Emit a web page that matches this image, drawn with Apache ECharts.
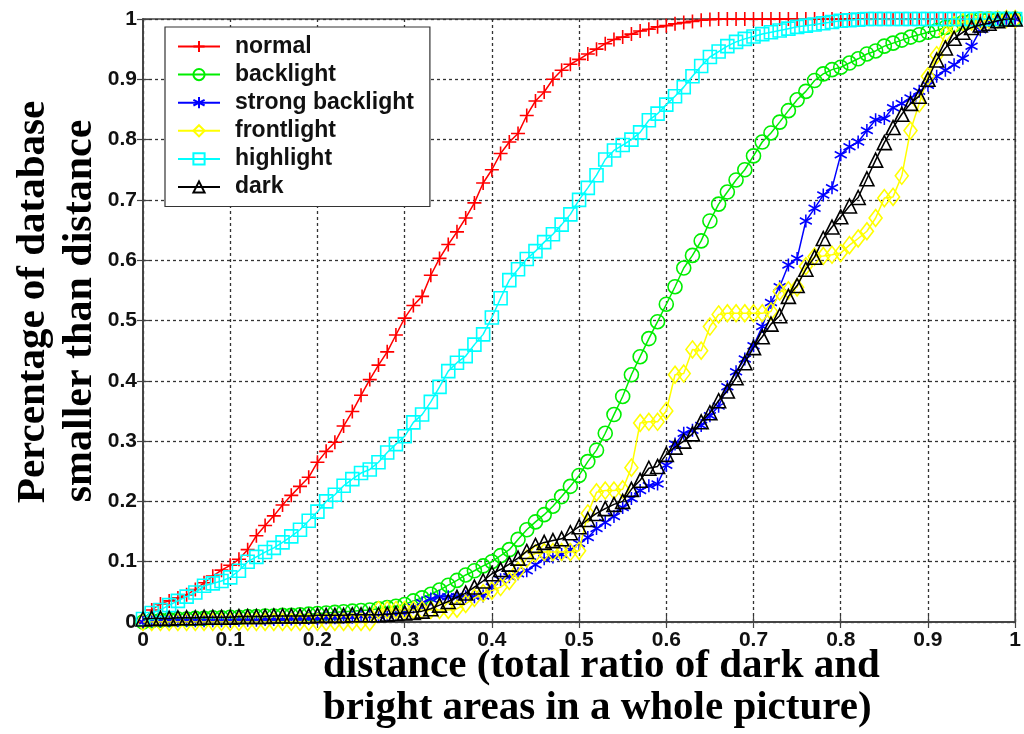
<!DOCTYPE html>
<html>
<head>
<meta charset="utf-8">
<script src="https://cdn.jsdelivr.net/npm/echarts@6/dist/echarts.min.js"></script>
<style>html,body{margin:0;padding:0;background:#fff;}#chart{width:1024px;height:734px;}</style>
</head>
<body>
<div id="chart"></div>
<script>
// distance grid (x values)
var distance = [0,0.01,0.02,0.03,0.04,0.05,0.06,0.07,0.08,0.09,
0.1,0.11,0.12,0.13,0.14,0.15,0.16,0.17,0.18,0.19,
0.2,0.21,0.22,0.23,0.24,0.25,0.26,0.27,0.28,0.29,
0.3,0.31,0.32,0.33,0.34,0.35,0.36,0.37,0.38,0.39,
0.4,0.41,0.42,0.43,0.44,0.45,0.46,0.47,0.48,0.49,
0.5,0.51,0.52,0.53,0.54,0.55,0.56,0.57,0.58,0.59,
0.6,0.61,0.62,0.63,0.64,0.65,0.66,0.67,0.68,0.69,
0.7,0.71,0.72,0.73,0.74,0.75,0.76,0.77,0.78,0.79,
0.8,0.81,0.82,0.83,0.84,0.85,0.86,0.87,0.88,0.89,
0.9,0.91,0.92,0.93,0.94,0.95,0.96,0.97,0.98,0.99,1];

var normal = [0,0.02,0.03,0.035,0.04,0.045,0.054,0.065,0.076,0.086,
0.094,0.104,0.12,0.143,0.16,0.176,0.194,0.21,0.225,0.24,
0.265,0.283,0.298,0.325,0.349,0.376,0.402,0.426,0.448,0.476,
0.504,0.525,0.54,0.575,0.603,0.626,0.647,0.67,0.695,0.728,
0.75,0.777,0.796,0.81,0.84,0.864,0.879,0.9,0.915,0.925,
0.933,0.942,0.95,0.959,0.966,0.97,0.975,0.98,0.983,0.987,
0.989,0.992,0.994,0.996,0.998,0.999,1,1,1,1,
1,1,1,1,1,1,1,1,1,1,
1,1,1,1,1,1,1,1,1,1,
1,1,1,1,1,1,1,1,1,1,1];

var backlight = [0,0.002,0.003,0.004,0.005,0.005,0.006,0.006,0.007,0.007,
0.008,0.008,0.009,0.009,0.01,0.01,0.011,0.011,0.012,0.013,
0.014,0.015,0.016,0.017,0.018,0.019,0.02,0.022,0.024,0.026,
0.029,0.035,0.04,0.046,0.053,0.061,0.069,0.078,0.085,0.093,
0.1,0.11,0.12,0.137,0.153,0.166,0.178,0.192,0.208,0.225,
0.243,0.266,0.285,0.313,0.344,0.374,0.41,0.44,0.47,0.498,
0.527,0.556,0.587,0.608,0.632,0.665,0.693,0.713,0.733,0.75,
0.773,0.796,0.811,0.829,0.848,0.866,0.88,0.898,0.909,0.916,
0.92,0.927,0.934,0.942,0.947,0.955,0.96,0.965,0.97,0.974,
0.978,0.981,0.986,0.99,0.994,0.997,1,1,1,1,1];

var strongBacklight = [0,0.002,0.002,0.002,0.002,0.002,0.002,0.002,0.002,0.002,
0.002,0.003,0.003,0.003,0.004,0.004,0.004,0.005,0.005,0.006,
0.006,0.007,0.007,0.008,0.008,0.009,0.009,0.01,0.011,0.013,
0.015,0.025,0.032,0.038,0.042,0.042,0.042,0.042,0.042,0.043,
0.058,0.07,0.075,0.08,0.085,0.095,0.105,0.108,0.112,0.12,
0.13,0.14,0.155,0.165,0.175,0.19,0.205,0.218,0.226,0.229,
0.26,0.295,0.313,0.318,0.326,0.342,0.358,0.39,0.415,0.436,
0.458,0.49,0.53,0.556,0.592,0.603,0.665,0.686,0.708,0.72,
0.775,0.788,0.796,0.815,0.833,0.835,0.853,0.86,0.869,0.88,
0.89,0.905,0.915,0.924,0.935,0.955,0.982,0.99,0.997,1,1];

var frontlight = [0,0,0,0,0,0,0,0,0,0,
0,0,0,0,0,0,0,0,0,0,
0,0,0,0,0,0,0,0.02,0.02,0.02,
0.02,0.02,0.02,0.02,0.02,0.02,0.022,0.03,0.04,0.048,
0.052,0.058,0.068,0.085,0.105,0.114,0.116,0.116,0.116,0.116,
0.118,0.18,0.215,0.218,0.218,0.22,0.256,0.33,0.332,0.332,
0.35,0.41,0.412,0.452,0.45,0.49,0.51,0.512,0.512,0.512,
0.512,0.512,0.515,0.548,0.55,0.555,0.59,0.606,0.607,0.609,
0.612,0.625,0.636,0.648,0.67,0.703,0.705,0.74,0.815,0.86,
0.905,0.94,0.975,0.99,0.995,0.996,0.997,0.998,0.999,1,1];

var highlight = [0.005,0.015,0.02,0.028,0.035,0.042,0.049,0.06,0.064,0.068,
0.074,0.085,0.1,0.108,0.116,0.123,0.132,0.142,0.153,0.168,
0.183,0.2,0.211,0.226,0.237,0.247,0.253,0.265,0.281,0.295,
0.308,0.331,0.344,0.365,0.39,0.416,0.43,0.441,0.46,0.477,
0.505,0.537,0.567,0.585,0.602,0.615,0.63,0.643,0.659,0.676,
0.7,0.72,0.741,0.767,0.782,0.791,0.8,0.812,0.832,0.843,
0.858,0.872,0.887,0.905,0.922,0.937,0.946,0.955,0.962,0.967,
0.971,0.975,0.978,0.981,0.984,0.987,0.989,0.991,0.993,0.995,
0.997,0.998,0.999,1,1,1,1,1,1,1,
1,1,1,1,1,1,1,1,1,1,1];

var dark = [0.005,0.006,0.006,0.006,0.007,0.007,0.007,0.008,0.008,0.008,
0.008,0.009,0.009,0.009,0.009,0.01,0.01,0.01,0.01,0.01,
0.011,0.011,0.011,0.011,0.012,0.012,0.012,0.012,0.013,0.014,
0.015,0.016,0.018,0.022,0.028,0.034,0.041,0.048,0.058,0.068,
0.08,0.087,0.096,0.106,0.117,0.127,0.132,0.135,0.138,0.148,
0.158,0.17,0.18,0.188,0.195,0.2,0.22,0.235,0.255,0.258,
0.278,0.29,0.3,0.312,0.332,0.347,0.367,0.383,0.405,0.43,
0.455,0.473,0.494,0.508,0.54,0.558,0.585,0.605,0.636,0.655,
0.672,0.69,0.704,0.735,0.766,0.795,0.82,0.842,0.86,0.872,
0.9,0.932,0.952,0.968,0.978,0.986,0.99,0.993,0.997,1,1];

var seriesNames = ['normal','backlight','strong backlight','frontlight','highlight','dark'];
var xTickLabels = ['0','0.1','0.2','0.3','0.4','0.5','0.6','0.7','0.8','0.9','1'];
var yTickLabels = ['0','0.1','0.2','0.3','0.4','0.5','0.6','0.7','0.8','0.9','1'];
var xTitle = 'distance (total ratio of dark and\nbright areas in a whole picture)';
var yTitle1 = 'Percentage of database';
var yTitle2 = 'smaller than distance';

var seriesData = [normal, backlight, strongBacklight, frontlight, highlight, dark];
var colors = ['#ff0000','#00ee00','#0000ff','#ffff00','#00ffff','#000000'];
var symbols = [
  'path://M0,-10L0,10M-10,0L10,0',
  'circle',
  'path://M0,-10L0,10M-8.66,-5L8.66,5M-8.66,5L8.66,-5',
  'diamond',
  'rect',
  'triangle'
];
var symbolSizes = [14, 14, [12,13], [13,17], 13, 14];

function pairs(ys){ return distance.map(function(x,i){ return [x, ys[i]]; }); }

var series = seriesNames.map(function(name, k){
  return {
    name: name,
    type: 'line',
    data: pairs(seriesData[k]),
    symbol: symbols[k],
    symbolSize: symbolSizes[k],
    showAllSymbol: true,
    color: colors[k],
    lineStyle: { color: colors[k], width: 1.5 },
    itemStyle: { color: 'rgba(255,255,255,0)', borderColor: colors[k], borderWidth: 1.6 },
    emphasis: { disabled: true },
    z: 2 + k
  };
});

var labelFont = { fontFamily: 'Liberation Sans', fontWeight: 'bold', fontSize: 21, color: '#111' };
var gridLine = { show: true, lineStyle: { type: [3,3], color: '#333', width: 1.3 } };

var chart = echarts.init(document.getElementById('chart'), null, { renderer: 'canvas' });
chart.setOption({
  animation: false,
  backgroundColor: '#fff',
  grid: { left: 143, right: 8, top: 19, bottom: 112, show: true, borderColor: '#444', borderWidth: 1.5 },
  legend: {
    orient: 'vertical', left: 165, top: 27,
    padding: [8, 16, 8, 12],
    itemWidth: 42, itemHeight: 14, itemGap: 5.1,
    backgroundColor: '#fff', borderColor: '#333', borderWidth: 1.2,
    textStyle: { fontFamily: 'Liberation Sans', fontWeight: 'bold', fontSize: 23, lineHeight: 22, color: '#111', padding: [0,0,0,10] },
    data: seriesNames
  },
  xAxis: [{
    type: 'value', min: 0, max: 1, interval: 0.1,
    axisLine: { lineStyle: { color: '#444', width: 1.5 } },
    axisTick: { inside: true, length: 6, lineStyle: { color: '#444', width: 1.2 } },
    axisLabel: Object.assign({ margin: 8, formatter: function(v){ return xTickLabels[Math.round(v*10)]; } }, labelFont),
    splitLine: gridLine
  }, {
    type: 'value', min: 0, max: 1, interval: 0.1, position: 'top',
    axisLine: { lineStyle: { color: '#444', width: 1.5 } },
    axisTick: { inside: true, length: 6, lineStyle: { color: '#444', width: 1.2 } },
    axisLabel: { show: false }, splitLine: { show: false }
  }],
  yAxis: [{
    type: 'value', min: 0, max: 1, interval: 0.1,
    axisLine: { show: true, lineStyle: { color: '#444', width: 1.5 } },
    axisTick: { show: true, inside: true, length: 6, lineStyle: { color: '#444', width: 1.2 } },
    axisLabel: Object.assign({ margin: 6, formatter: function(v){ return yTickLabels[Math.round(v*10)]; } }, labelFont),
    splitLine: gridLine
  }, {
    type: 'value', min: 0, max: 1, interval: 0.1, position: 'right',
    axisLine: { show: true, lineStyle: { color: '#444', width: 1.5 } },
    axisTick: { show: true, inside: true, length: 6, lineStyle: { color: '#444', width: 1.2 } },
    axisLabel: { show: false }, splitLine: { show: false }
  }],
  graphic: [
    { type: 'text', left: 323, top: 645, z: 10,
      style: { text: xTitle, font: 'bold 41px "Liberation Serif"', lineHeight: 42, fill: '#000' } },
    { type: 'text', x: 33, y: 302, rotation: Math.PI/2, z: 10,
      style: { text: yTitle1, font: 'bold 41px "Liberation Serif"', align: 'center', verticalAlign: 'middle', fill: '#000' } },
    { type: 'text', x: 80, y: 311, rotation: Math.PI/2, z: 10,
      style: { text: yTitle2, font: 'bold 42px "Liberation Serif"', align: 'center', verticalAlign: 'middle', fill: '#000' } }
  ],
  series: series
});
</script>
</body>
</html>
